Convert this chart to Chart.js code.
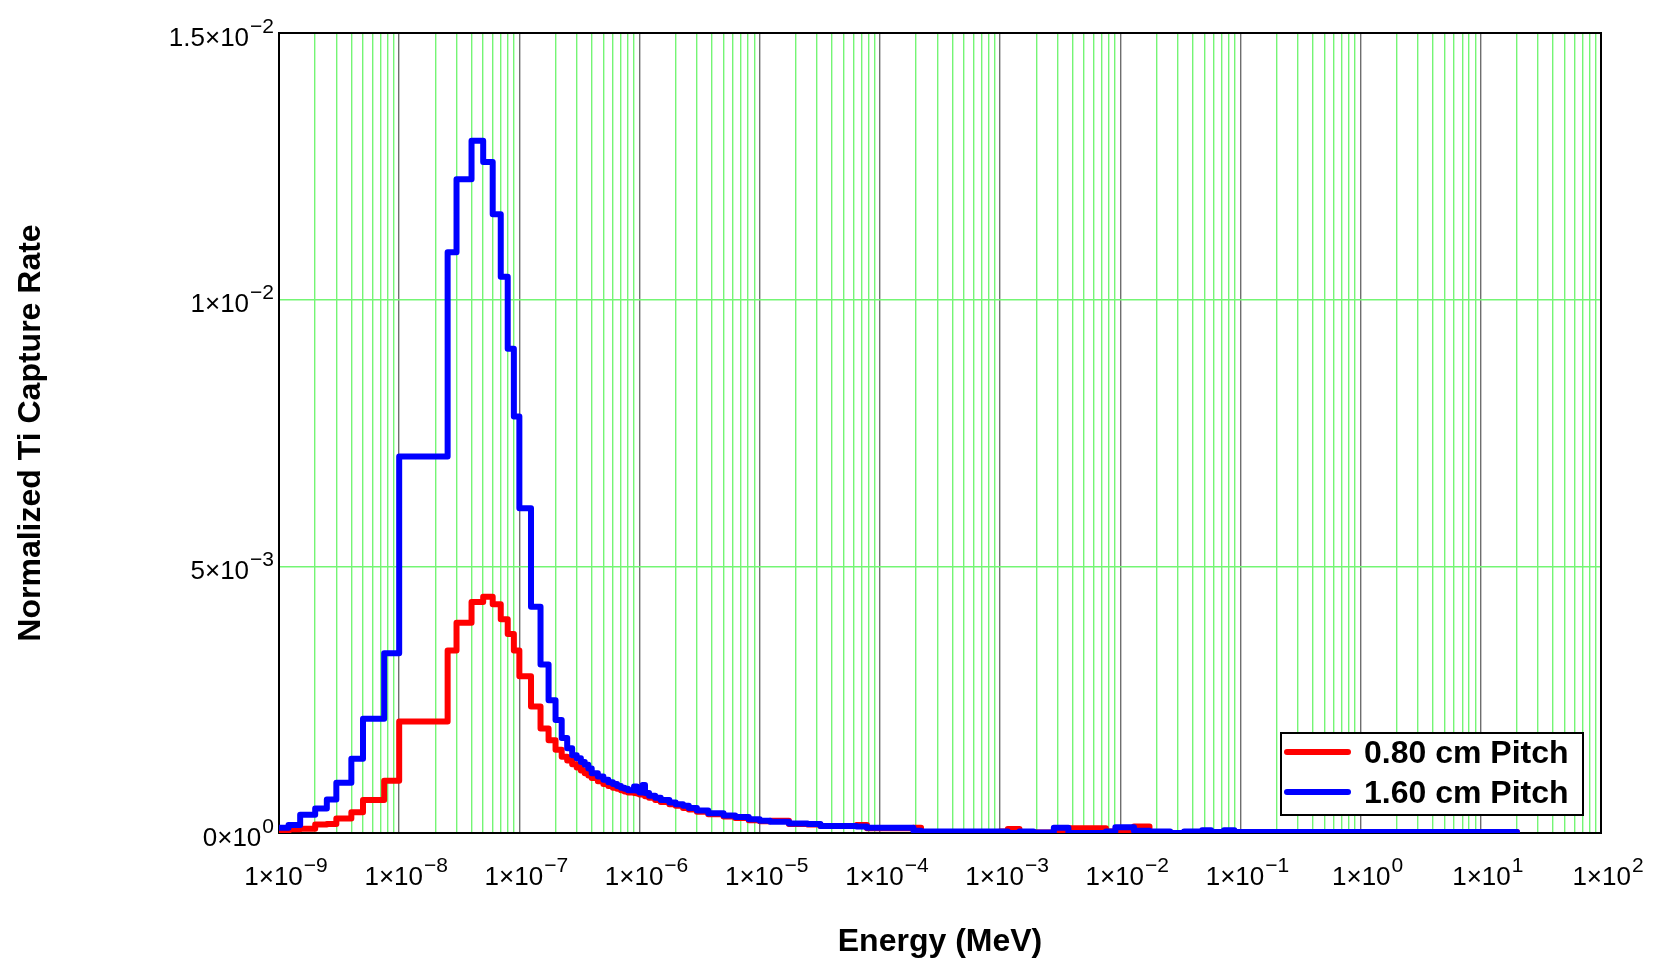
<!DOCTYPE html>
<html>
<head>
<meta charset="utf-8">
<script src="https://cdn.jsdelivr.net/npm/chart.js@4.4.0/dist/chart.umd.min.js"></script>
<style>
    html, body { margin: 0; padding: 0; background: #ffffff; }
    #wrap { width: 1656px; height: 960px; position: relative; }
</style>
</head>
<body>
<div id="wrap"><canvas id="captureChart"></canvas></div>
<script>
// Energy group boundaries (MeV) of the histogram
const binEdges = [
    1e-9, 1.2e-9, 1.5e-9, 2e-9, 2.5e-9, 3e-9, 4e-9, 5e-9, 7.5e-9,
    1e-8, 2.53e-8, 3e-8, 4e-8, 5e-8, 6e-8, 7e-8, 8e-8, 9e-8,
    1e-7, 1.25e-7, 1.5e-7, 1.75e-7, 2e-7, 2.25e-7, 2.5e-7, 2.75e-7, 3e-7, 3.25e-7, 3.5e-7, 3.75e-7,
    4e-7, 4.5e-7, 5e-7, 5.5e-7, 6e-7, 6.5e-7, 7e-7, 7.5e-7, 8e-7, 9e-7, 9.5e-7,
    1e-6, 1.06e-6, 1.11e-6, 1.2e-6, 1.35e-6, 1.5e-6, 1.77e-6, 2e-6, 2.3e-6, 2.57e-6, 3e-6, 3.73e-6, 5e-6, 6.25e-6, 8.1e-6,
    1e-5, 1.22e-5, 1.75e-5, 2.5e-5, 3.2e-5, 6.4e-5, 7.8e-5,
    1.9e-4, 2.2e-4,
    1e-3, 1.16e-3, 1.45e-3, 1.9e-3, 2.8e-3, 3.7e-3, 7.6e-3, 9.1e-3,
    1.3e-2, 1.75e-2, 2.6e-2, 3.4e-2, 4.8e-2, 5.7e-2, 7.3e-2, 8.9e-2,
    20
];

// capture rate per group, in units of 1e-3
const pitch080 = [
    0.03, 0.07, 0.08, 0.16, 0.17, 0.27, 0.39, 0.62, 0.98,
    2.09, 3.42, 3.94, 4.33, 4.43, 4.29, 4.01, 3.73, 3.42,
    2.94, 2.37, 1.96, 1.74, 1.56, 1.43, 1.36, 1.29, 1.23, 1.17, 1.12, 1.08,
    1.03, 0.97, 0.92, 0.88, 0.85, 0.83, 0.80, 0.78, 0.76, 0.75, 0.74,
    0.72, 0.72, 0.69, 0.66, 0.62, 0.58, 0.54, 0.51, 0.47, 0.44, 0.40, 0.35, 0.31, 0.28, 0.24,
    0.22, 0.23, 0.17, 0.16, 0.13, 0.15, 0.09,
    0.10, 0.02,
    0.03, 0.075, 0.02, 0.01, 0.05, 0.09, 0.03, 0.05,
    0.12, 0.02, 0.00, 0.02, 0.03, 0.02, 0.03, 0.02
];

const pitch160 = [
    0.10, 0.15, 0.34, 0.46, 0.63, 0.94, 1.39, 2.14, 3.37,
    7.06, 10.89, 12.26, 12.98, 12.58, 11.60, 10.43, 9.08, 7.81,
    6.09, 4.24, 3.16, 2.49, 2.12, 1.78, 1.59, 1.46, 1.40, 1.33, 1.28, 1.21,
    1.12, 1.06, 1.00, 0.95, 0.92, 0.88, 0.85, 0.83, 0.80, 0.87, 0.79,
    0.76, 0.90, 0.75, 0.70, 0.66, 0.62, 0.57, 0.54, 0.51, 0.47, 0.42, 0.37, 0.33, 0.30, 0.26,
    0.23, 0.21, 0.18, 0.17, 0.13, 0.12, 0.10,
    0.04, 0.03,
    0.03, 0.00, 0.03, 0.01, 0.10, 0.00, 0.03, 0.11,
    0.04, 0.03, 0.00, 0.03, 0.05, 0.02, 0.05, 0.02
];

const seriesNames = ['0.80 cm Pitch', '1.60 cm Pitch'];
const seriesColors = ['#ff0000', '#0000ff'];

const xTickExponents = [-9, -8, -7, -6, -5, -4, -3, -2, -1, 0, 1, 2];
const yTickValues = [0, 5, 10, 15];
const yTickMantissas = ['0', '5', '1', '1.5'];
const yTickExponents = ['0', '\u22123', '\u22122', '\u22122'];

const xTitle = 'Energy (MeV)';
const yTitle = 'Normalized Ti Capture Rate';

const fontFamily = "'Liberation Sans', Arial, Helvetica, sans-serif";

// one point per group lower edge, plus the closing edge
const toSteps = (values) => {
    const points = values.map((value, i) => ({ x: binEdges[i], y: value }));
    points.push({ x: binEdges[binEdges.length - 1], y: values[values.length - 1] });
    return points;
};

const isDecade = (value) => {
    const power = Math.log10(value);
    return Math.abs(power - Math.round(power)) < 1e-9;
};

const drawPowerLabel = (ctx, mantissa, exponent, x, baseline, align) => {
    const mainText = mantissa + '\u00d710';
    ctx.font = `26px ${fontFamily}`;
    const mainWidth = ctx.measureText(mainText).width;
    ctx.font = `21px ${fontFamily}`;
    const expWidth = ctx.measureText(exponent).width;
    const total = mainWidth + 1 + expWidth;
    const left = align === 'right' ? x - total : x - total / 2;

    ctx.textAlign = 'left';
    ctx.textBaseline = 'alphabetic';
    ctx.font = `26px ${fontFamily}`;
    ctx.fillText(mainText, left, baseline);
    ctx.font = `21px ${fontFamily}`;
    ctx.fillText(exponent, left + mainWidth + 1, baseline - 13);
};

const framePlugin = {
    id: 'frame',
    beforeDatasetsDraw(chart) {
        const { ctx, chartArea } = chart;
        ctx.save();
        ctx.strokeStyle = '#000000';
        ctx.lineWidth = 2;
        ctx.strokeRect(chartArea.left, chartArea.top, chartArea.right - chartArea.left, chartArea.bottom - chartArea.top);
        ctx.restore();
    },
    afterDraw(chart) {
        const { ctx, chartArea, scales } = chart;
        ctx.save();
        ctx.fillStyle = '#000000';

        xTickExponents.forEach((exp) => {
            const x = scales.x.getPixelForValue(Math.pow(10, exp));
            const label = exp < 0 ? '\u2212' + Math.abs(exp) : String(exp);
            drawPowerLabel(ctx, '1', label, x + 7, chartArea.bottom + 52, 'center');
        });

        yTickValues.forEach((value, i) => {
            const y = scales.y.getPixelForValue(value);
            drawPowerLabel(ctx, yTickMantissas[i], yTickExponents[i], chartArea.left - 5, y + 12.5, 'right');
        });

        // axis titles
        ctx.font = `bold 32px ${fontFamily}`;
        ctx.textAlign = 'center';
        ctx.textBaseline = 'alphabetic';
        ctx.fillText(xTitle, (chartArea.left + chartArea.right) / 2, 951);

        ctx.save();
        ctx.translate(39.5, (chartArea.top + chartArea.bottom) / 2);
        ctx.rotate(-Math.PI / 2);
        ctx.fillText(yTitle, 0, 0);
        ctx.restore();

        // legend box
        const box = { left: 1281, top: 733, width: 302, height: 82 };
        ctx.fillStyle = '#ffffff';
        ctx.fillRect(box.left, box.top, box.width, box.height);
        ctx.strokeStyle = '#000000';
        ctx.lineWidth = 2;
        ctx.strokeRect(box.left, box.top, box.width, box.height);

        seriesNames.forEach((name, i) => {
            const rowY = box.top + 19 + i * 40;
            ctx.strokeStyle = seriesColors[i];
            ctx.lineWidth = 6;
            ctx.lineCap = 'round';
            ctx.beginPath();
            ctx.moveTo(box.left + 6, rowY);
            ctx.lineTo(box.left + 67, rowY);
            ctx.stroke();

            ctx.fillStyle = '#000000';
            ctx.font = `bold 32px ${fontFamily}`;
            ctx.textAlign = 'left';
            ctx.textBaseline = 'alphabetic';
            ctx.fillText(name, box.left + 83, rowY + 11);
        });

        ctx.restore();
    }
};

const canvas = document.getElementById('captureChart');

new Chart(canvas, {
    type: 'line',
    data: {
        datasets: [
            {
                label: seriesNames[0],
                data: toSteps(pitch080),
                borderColor: seriesColors[0],
                borderWidth: 6,
                stepped: 'before',
                pointRadius: 0,
                fill: false,
                borderJoinStyle: 'round',
                borderCapStyle: 'round',
                order: 1
            },
            {
                label: seriesNames[1],
                data: toSteps(pitch160),
                borderColor: seriesColors[1],
                borderWidth: 6,
                stepped: 'before',
                pointRadius: 0,
                fill: false,
                borderJoinStyle: 'round',
                borderCapStyle: 'round',
                order: 0
            }
        ]
    },
    options: {
        responsive: true,
        maintainAspectRatio: false,
        animation: false,
        layout: {
            padding: { left: 279, right: 55, top: 33, bottom: 127 }
        },
        plugins: {
            legend: { display: false },
            tooltip: { enabled: false }
        },
        scales: {
            x: {
                type: 'logarithmic',
                min: 1e-9,
                max: 100,
                afterBuildTicks: (scale) => {
                    const ticks = [];
                    for (let exp = -9; exp < 2; exp++) {
                        for (let k = 1; k <= 9; k++) {
                            const value = k * Math.pow(10, exp);
                            if (exp === -9 && k === 1) continue;
                            ticks.push({ value, major: k === 1 });
                        }
                    }
                    scale.ticks = ticks;
                },
                ticks: { display: false },
                grid: {
                    drawTicks: false,
                    lineWidth: 1.4,
                    color: (context) => (context.tick && isDecade(context.tick.value) ? '#6e6e6e' : '#74f574')
                },
                border: { display: false }
            },
            y: {
                min: 0,
                max: 15,
                afterBuildTicks: (scale) => {
                    scale.ticks = yTickValues.map((value) => ({ value }));
                },
                ticks: { display: false },
                grid: {
                    drawTicks: false,
                    lineWidth: 1.4,
                    color: (context) => (context.tick && (context.tick.value === 5 || context.tick.value === 10) ? '#74f574' : 'rgba(0,0,0,0)')
                },
                border: { display: false }
            }
        }
    },
    plugins: [framePlugin]
});
</script>
</body>
</html>
